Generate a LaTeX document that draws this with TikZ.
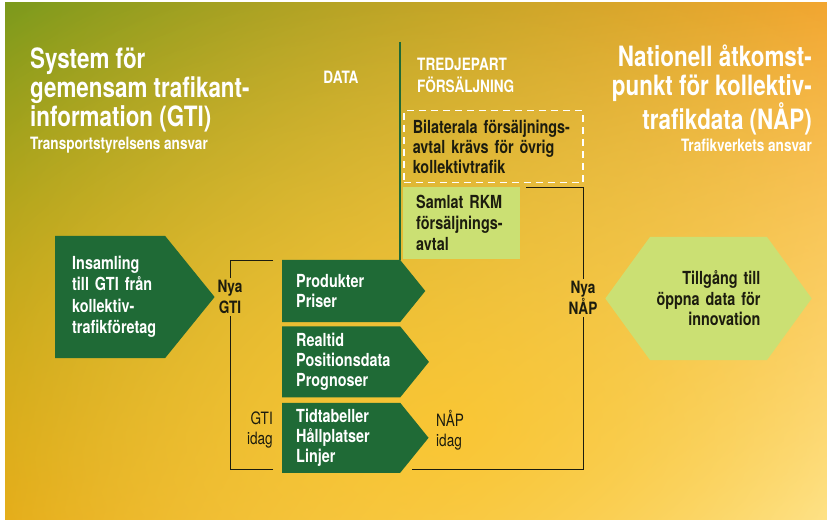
\documentclass[tikz,border=0pt]{standalone}
\usepackage{fontspec}
\setmainfont{TeX Gyre Heros}[FakeStretch=0.8]
\usepackage{tikz}
\usetikzlibrary{shapes.symbols, positioning, fadings, shadings}

\definecolor{gtigreen}{HTML}{1F6A36}
\definecolor{limegreen}{HTML}{CBE073}
\definecolor{inkdark}{HTML}{1C1C0E}
\definecolor{bgolive}{HTML}{7C9A1C}
\definecolor{bgorange}{HTML}{F2A531}
\definecolor{bggold}{HTML}{D9A315}
\definecolor{bgpale}{HTML}{FEF3C0}
\definecolor{bgyellow}{HTML}{FFC628}

\tikzfading[name=softspot, inner color=transparent!0, outer color=transparent!100]

\begin{document}
\begin{tikzpicture}[
    x=1pt, y=-1pt,
    datasignal/.style={signal, signal to=east, signal pointer angle=102, fill=gtigreen, text=white,
        align=left, text width=90pt, inner xsep=14pt, inner ysep=0pt,
        font=\fontsize{18}{20}\selectfont\bfseries},
    accesshex/.style={signal, signal to=east and west, signal pointer angle=108, fill=limegreen,
        text=inkdark, align=right, text width=104pt, inner xsep=6.5pt, inner ysep=0pt, minimum height=123pt,
        font=\fontsize{18}{20.5}\selectfont\bfseries},
    softbox/.style={rectangle, fill=limegreen, text=inkdark, align=left, inner ysep=0pt,
        font=\fontsize{18}{21}\selectfont\bfseries},
    dashbox/.style={rectangle, draw=white, line width=1.5pt, dash pattern=on 7pt off 5pt, text=inkdark,
        align=left, inner ysep=0pt, font=\fontsize{18}{20}\selectfont\bfseries},
    heading/.style={text=white, inner sep=0pt, font=\fontsize{28}{29}\selectfont\bfseries},
    subheading/.style={text=white, inner sep=0pt, font=\fontsize{17}{22}\selectfont\bfseries},
    tag/.style={text=inkdark, align=center, inner sep=2pt, font=\fontsize{17}{21}\selectfont\bfseries},
    tagthin/.style={text=inkdark, inner sep=0pt, font=\fontsize{17}{20}\selectfont\mdseries},
    bracket/.style={draw=inkdark, line width=1pt}
]
    \useasboundingbox (0,0) rectangle (827,521);

    % Background
    \fill[white] (0,0) rectangle (827,521);
    \begin{scope}
        \clip (5,3) rectangle (827,519);
        \shade[upper left=bgolive, upper right=bgorange, lower left=bggold, lower right=bgpale] (5,3) rectangle (827,519);
        \fill[bgyellow, opacity=0.8, path fading=softspot] (450,430) ellipse [x radius=760pt, y radius=520pt];
    \end{scope}

    % Headings
    \node[heading, anchor=west, align=left] (gtititle) at (30,90) {System för\\gemensam trafikant-\\information (GTI)};
    \node[subheading, anchor=west] (gtiowner) at (30,145) {Transportstyrelsens ansvar};
    \node[heading, anchor=east, align=right] (naptitle) at (812,90) {Nationell åtkomst-\\punkt för kollektiv-\\trafikdata (NÅP)};
    \node[subheading, anchor=east] (napowner) at (812,145) {Trafikverkets ansvar};

    % Columns
    \node[subheading] (data) at (341,77) {DATA};
    \node[subheading, anchor=west, align=left] (tredjepart) at (417,75) {TREDJEPART\\FÖRSÄLJNING};

    % Collection
    \node[datasignal, text width=76pt, inner xsep=17pt, minimum height=122pt, anchor=west,
        font=\fontsize{18}{21.5}\selectfont\bfseries] (insamling) at (55,297) {Insamling\\till~GTI~från\\kollektiv-\\trafikföretag};

    % Data sets
    \node[datasignal, minimum height=62pt, anchor=west] (produkter) at (282,291) {Produkter\\Priser};
    \node[datasignal, minimum height=71pt, below=4pt of produkter] (realtid) {Realtid\\Positionsdata\\Prognoser};
    \node[datasignal, minimum height=70pt, below=5pt of realtid] (tidtabeller) {Tidtabeller\\Hållplatser\\Linjer};

    % Sales agreements
    \node[dashbox, anchor=north west, minimum width=179pt, minimum height=72pt, text width=161pt,
        inner xsep=9pt] (bilateral) at (403,110) {\mbox{Bilaterala försäljnings-}\\avtal~krävs~för~övrig\\kollektivtrafik};
    \node[softbox, minimum width=117pt, minimum height=72pt, text width=91pt, inner xsep=13pt,
        below=3pt of bilateral.south west, anchor=north west] (rkm) {Samlat~RKM\\försäljnings-\\avtal};

    % Open data
    \node[accesshex] (tillgang) at (708.5,298.5) {Tillgång~till\\öppna~data~för\\innovation};

    % Divider
    \coordinate (datatop) at (400,42);
    \draw[gtigreen, line width=1.8pt] (datatop) -- (datatop |- produkter.north);

    % GTI bracket
    \node[tag] (nyagti) at (230,297) {Nya\\GTI};
    \coordinate (gtitop) at (273,261);
    \coordinate (gtibottom) at (273,469);
    \draw[bracket] (gtitop) -| (nyagti.north);
    \draw[bracket] (gtibottom) -| (nyagti.south);
    \node[tagthin, anchor=east, align=right] (gtiidag) at (273,430) {GTI\\idag};

    % NAP bracket
    \node[tag] (nyanap) at (583,298) {Nya\\NÅP};
    \coordinate (naptop) at (526,188);
    \coordinate (napbottom) at (412,469);
    \draw[bracket] (naptop) -| (nyanap.north);
    \draw[bracket] (napbottom) -| (nyanap.south);
    \node[tagthin, anchor=west, align=left] (napidag) at (436,430) {NÅP\\idag};
\end{tikzpicture}
\end{document}
